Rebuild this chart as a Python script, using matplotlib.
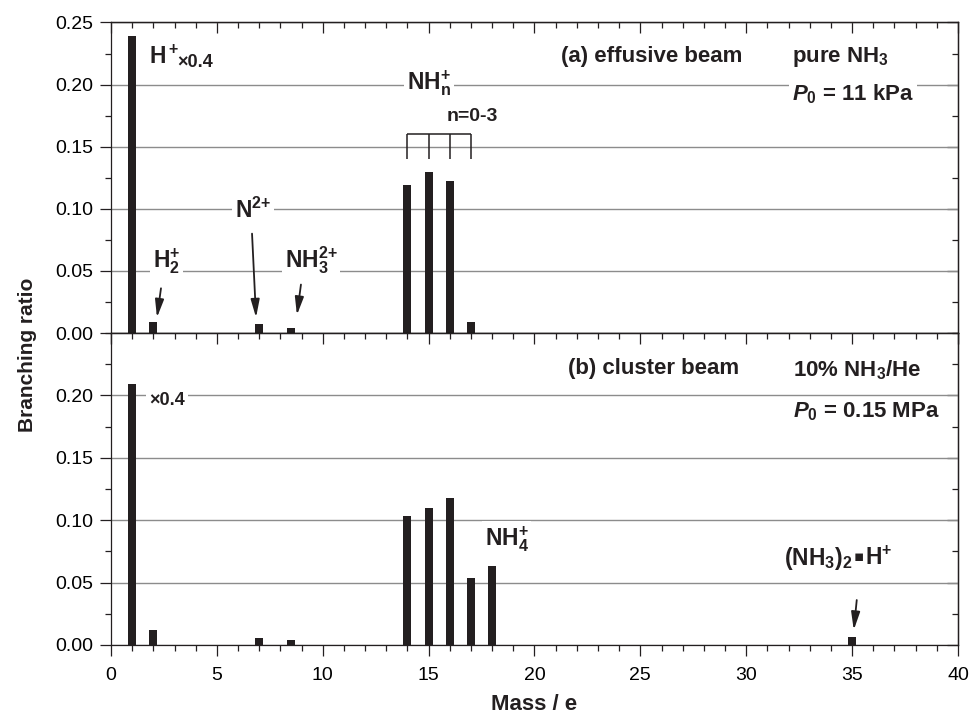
import matplotlib
matplotlib.use("Agg")
import matplotlib.pyplot as plt
from matplotlib.ticker import MultipleLocator, FormatStrFormatter, NullFormatter

plt.rcParams['font.family'] = ['Liberation Sans', 'DejaVu Sans']
plt.rcParams['mathtext.fontset'] = 'custom'
plt.rcParams['mathtext.rm'] = 'Liberation Sans:bold'
plt.rcParams['mathtext.it'] = 'Liberation Sans:bold:italic'
plt.rcParams['mathtext.bf'] = 'Liberation Sans:bold'

# (a) effusive beam, pure NH3
mass_a = [1, 2, 7, 8.5, 14, 15, 16, 17]
ratio_a = [0.2395, 0.0091, 0.0072, 0.0038, 0.1195, 0.130, 0.1227, 0.009]

# (b) cluster beam, 10% NH3/He
mass_b = [1, 2, 7, 8.5, 14, 15, 16, 17, 18, 35]
ratio_b = [0.209, 0.012, 0.0059, 0.004, 0.1034, 0.1098, 0.1178, 0.0539, 0.0633, 0.0067]

nh_group = [14, 15, 16, 17]

bar_color = '#231f20'
grid_color = '#8c8c8c'

fig = plt.figure(figsize=(9.79, 7.16), dpi=100)
ax_a = fig.add_axes([0.1134, 0.5349, 0.8651, 0.4337])
ax_b = fig.add_axes([0.1134, 0.0992, 0.8651, 0.4357])


def style_axes(ax, show_xlabels, yticks):
    ax.set_xlim(0, 40)
    ax.set_ylim(0, 0.25)
    ax.xaxis.set_major_locator(MultipleLocator(5))
    ax.xaxis.set_minor_locator(MultipleLocator(1))
    ax.set_yticks(yticks)
    ax.yaxis.set_minor_locator(MultipleLocator(0.025))
    ax.yaxis.set_major_formatter(FormatStrFormatter('%.2f'))
    ax.tick_params(which='both', direction='out', width=0.9, top=False, right=False,
                   labelsize=14, color='#231f20')
    ax.tick_params(which='major', length=8)
    ax.tick_params(which='minor', length=4.3)
    ax.tick_params(axis='y', pad=5)
    ax.tick_params(axis='x', pad=8, labelbottom=show_xlabels)
    ax.yaxis.grid(True, color=grid_color, lw=1.0)
    ax.set_axisbelow(True)
    for sp in ax.spines.values():
        sp.set_linewidth(0.9)
        sp.set_color('#231f20')
    # inward ticks on top and right
    top = ax.secondary_xaxis('top')
    top.xaxis.set_major_locator(MultipleLocator(5))
    top.xaxis.set_minor_locator(MultipleLocator(1))
    top.xaxis.set_major_formatter(NullFormatter())
    top.tick_params(which='both', direction='in', width=0.9, color='#231f20')
    top.tick_params(which='major', length=8)
    top.tick_params(which='minor', length=4.3)
    top.spines['top'].set_linewidth(0.9)
    right = ax.secondary_yaxis('right')
    right.set_yticks(yticks)
    right.yaxis.set_minor_locator(MultipleLocator(0.025))
    right.yaxis.set_major_formatter(NullFormatter())
    right.tick_params(which='both', direction='in', width=0.9, color='#231f20')
    right.tick_params(which='major', length=8)
    right.tick_params(which='minor', length=4.3)
    right.spines['right'].set_linewidth(0.9)


style_axes(ax_a, False, [0, 0.05, 0.10, 0.15, 0.20, 0.25])
style_axes(ax_b, True, [0, 0.05, 0.10, 0.15, 0.20])

ax_a.bar(mass_a, ratio_a, width=0.38, color=bar_color, zorder=2)
ax_b.bar(mass_b, ratio_b, width=0.38, color=bar_color, zorder=2)

wbox = dict(fc='white', ec='none', pad=2)
big = 16.5
mid = 16


def label(ax, x, y, s, size=big, box=True, **kw):
    ax.text(x, y, s, fontsize=size, fontweight='bold', ha='left', va='baseline',
            bbox=wbox if box else None, zorder=4, color='#231f20', **kw)


def arrow(ax, start, end):
    ax.annotate('', xy=end, xytext=start,
                arrowprops=dict(arrowstyle='-|>,head_length=0.9,head_width=0.22',
                                color='#231f20', lw=1.3, shrinkA=0, shrinkB=0,
                                mutation_scale=12), zorder=4)


# panel (a) annotations
label(ax_a, 1.8, 0.217, 'H$^+$', box=False)
label(ax_a, 3.12, 0.214, '×0.4', size=13, box=False)
label(ax_a, 21.27, 0.218, '(a) effusive beam', size=mid, box=False)
label(ax_a, 32.15, 0.218, 'pure NH$_3$', size=mid, box=False)
label(ax_a, 32.15, 0.187, '$P_0$ = 11 kPa', size=mid)
label(ax_a, 13.98, 0.196, 'NH$_\\mathrm{n}^{{+}}$')
label(ax_a, 15.86, 0.171, 'n=0-3', size=14, box=False)
label(ax_a, 1.98, 0.053, 'H$_2^{{+}}$')
label(ax_a, 5.85, 0.0924, 'N$^{2{+}}$')
label(ax_a, 8.2, 0.053, 'NH$_3^{2{+}}$')

arrow(ax_a, (2.36, 0.036), (2.17, 0.0125))
arrow(ax_a, (6.66, 0.080), (6.85, 0.0125))
arrow(ax_a, (8.97, 0.039), (8.78, 0.0145))

# bracket over NH_n+ peaks
ax_a.hlines(0.16, nh_group[0], nh_group[-1], color='#231f20', lw=1.1, zorder=3)
ax_a.vlines(nh_group, 0.14, 0.16, color='#231f20', lw=1.1, zorder=3)

# panel (b) annotations
label(ax_b, 1.8, 0.192, '×0.4', size=13)
label(ax_b, 21.56, 0.217, '(b) cluster beam', size=mid, box=False)
label(ax_b, 32.2, 0.2155, '10% NH$_3$/He', size=mid, box=False)
label(ax_b, 32.2, 0.1827, '$P_0$ = 0.15 MPa', size=mid)
label(ax_b, 17.64, 0.080, 'NH$_4^{{+}}$')
label(ax_b, 31.8, 0.064, '(NH$_3$)$_2$', box=False)
ax_b.text(35.33, 0.0705, '\u25aa', fontsize=11, family='DejaVu Sans',
          ha='center', va='center', color='#231f20', zorder=4)
label(ax_b, 35.62, 0.064, 'H$^{{+}}$', box=False)
arrow(ax_b, (35.22, 0.036), (35.08, 0.012))

fig.text(0.028, 1 - 355 / 716, 'Branching ratio', rotation=90, fontsize=15,
         fontweight='bold', ha='center', va='center', color='#231f20')
fig.text(0.5455, 6 / 716, 'Mass / e', fontsize=16, fontweight='bold',
         ha='center', va='baseline', color='#231f20')

fig.savefig('out.png', dpi=100)
